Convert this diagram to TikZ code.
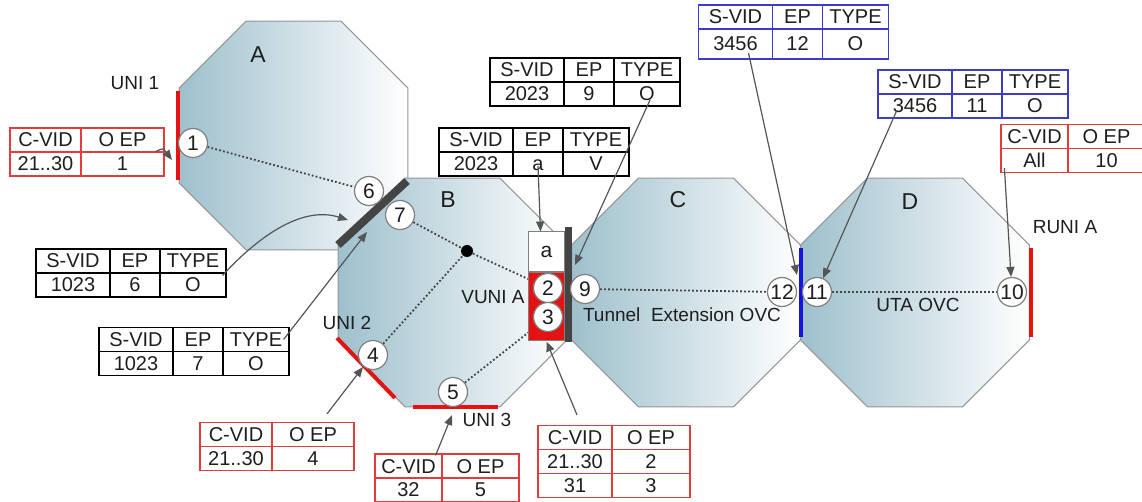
\documentclass[tikz,border=0pt]{standalone}
\usepackage{fontspec}
\setmainfont{Liberation Sans}
\usetikzlibrary{shapes.geometric,matrix,arrows.meta,positioning}
\pgfdeclarelayer{front}
\pgfsetlayers{main,front}

\definecolor{octblue}{RGB}{158,192,204}
\definecolor{octline}{RGB}{150,150,150}
\definecolor{bardark}{RGB}{68,68,68}
\definecolor{unired}{RGB}{228,18,18}
\definecolor{tabred}{RGB}{228,60,60}
\definecolor{nniblue}{RGB}{20,20,225}
\definecolor{tabblue}{RGB}{60,60,200}
\definecolor{ptrgray}{RGB}{85,85,85}
\definecolor{ink}{RGB}{30,30,30}

\tikzset{
  every node/.style={text=ink, font=\fontsize{9.5}{11}\selectfont},
  oct/.style={regular polygon, regular polygon sides=8, minimum size=123.9pt, inner sep=0pt,
    draw=octline, line width=0.5pt, left color=octblue, right color=white},
  octname/.style={font=\fontsize{11.5}{13}\selectfont},
  ep/.style={circle, draw=gray, fill=white, line width=0.6pt, minimum size=14.5pt, inner sep=0pt,
    font=\fontsize{10.5}{12}\selectfont},
  vbox/.style={rectangle, draw=gray, fill=white, line width=0.5pt, minimum width=18pt,
    minimum height=20pt, inner sep=0pt, font=\fontsize{10.5}{12}\selectfont},
  unibar/.style={draw=unired, line width=2pt},
  nnibar/.style={draw=bardark, line width=4pt},
  enni/.style={draw=nniblue, line width=2pt},
  path/.style={draw=bardark, line width=0.9pt, dash pattern=on 0.9pt off 1.1pt},
  ptr/.style={draw=ptrgray, line width=0.6pt, -{Triangle[length=5pt,width=4pt]}},
  tbl/.style={matrix of nodes, inner sep=0pt, column sep=-0.6pt, row sep=-0.6pt,
    nodes={draw=#1, line width=0.6pt, minimum height=12pt, text height=7pt, text depth=0pt,
      inner sep=0pt, font=\fontsize{10}{12}\selectfont}},
  svid/.style={tbl=#1, column 1/.style={nodes={minimum width=37pt}},
    column 2/.style={nodes={minimum width=25pt}}, column 3/.style={nodes={minimum width=33pt}}},
  cvid/.style 2 args={tbl=tabred, column 1/.style={nodes={minimum width=#1}},
    column 2/.style={nodes={minimum width=#2}}},
}

\begin{document}
\begin{tikzpicture}[x=0.5pt,y=-0.5pt]
  \useasboundingbox (0,0) rectangle (1142,502);

  % EVCs as octagons
  \node[oct] (octA) at (293.5,135.5) {};
  \node[oct] (octB) at (452.5,292.5) {};
  \node[oct] (octC) at (686,292.5) {};
  \node[oct] (octD) at (915,292.5) {};
  \node[octname] (nameA) at (258,55) {A};
  \node[octname] (nameB) at (448,200) {B};
  \node[octname] (nameC) at (678,200) {C};
  \node[octname] (nameD) at (910,202) {D};

  % interfaces
  \draw[unibar] (178,91) -- (178,180);
  \draw[nnibar] (338,245) -- (407,181);
  \draw[unibar] (337,338) -- (395,398);
  \draw[unibar] (413,407) -- (498,407);
  \draw[draw=bardark, line width=3.5pt] (568.5,227) -- (568.5,342);
  \draw[enni] (801,248) -- (801,337);
  \draw[unibar] (1031,248) -- (1031,337);

  % labels
  \node (uni1lbl) at (135,83) {UNI 1};
  \node (uni2lbl) at (347,323) {UNI 2};
  \node (uni3lbl) at (487,420) {UNI 3};
  \node (vunilbl) at (493,297) {VUNI A};
  \node (runilbl) at (1065,227) {RUNI A};
  \node (tunlbl) at (682,315) {Tunnel\ \ Extension OVC};
  \node (utalbl) at (918,305) {UTA OVC};

  \begin{pgfonlayer}{front}
    \node[vbox] (abox) at (546.5,252) {a};
    \node[vbox, fill=unired, minimum height=34pt, below=0pt of abox] (vuni) {};
    \node[ep] (e1) at (193,143) {1};
    \node[ep] (e6) at (369,191) {6};
    \node[ep] (e7) at (400,215) {7};
    \node[ep] (e4) at (373,355) {4};
    \node[ep] (e5) at (453,392) {5};
    \node[ep] (e2) at (548,288) {2};
    \node[ep] (e3) at (548,317) {3};
    \node[ep] (e9) at (585,289) {9};
    \node[ep] (e12) at (782,292) {12};
    \node[ep] (e11) at (817,292) {11};
    \node[ep] (e10) at (1012,292) {10};
    \node[circle, fill=black, minimum size=6pt, inner sep=0pt] (sw) at (467,251) {};
  \end{pgfonlayer}

  % paths through the EVCs
  \draw[path] (e1) -- (e6);
  \draw[path] (e7) -- (sw) -- (e2);
  \draw[path] (e4) -- (sw);
  \draw[path] (e5) -- (e3);
  \draw[path] (e9) -- (e12);
  \draw[path] (e11) -- (e10);

  % tables
  \matrix (t1) [cvid={35.5pt}{41.5pt}] at (87,152) {C-VID & O EP \\ 21..30 & 1 \\};
  \matrix (t4) [cvid={36pt}{41pt}] at (277,446.5) {C-VID & O EP \\ 21..30 & 4 \\};
  \matrix (t5) [cvid={33.5pt}{38.5pt}] at (447,478) {C-VID & O EP \\ 32 & 5 \\};
  \matrix (t23) [cvid={37pt}{39pt}] at (614,461.5) {C-VID & O EP \\ 21..30 & 2 \\ 31 & 3 \\};
  \matrix (t10) [cvid={33.5pt}{38.5pt}] at (1073,148.5) {C-VID & O EP \\ All & 10 \\};
  \matrix (t6) [svid=black] at (131,273) {S-VID & EP & TYPE \\ 1023 & 6 & O \\};
  \matrix (t7) [svid=black] at (194,351.5) {S-VID & EP & TYPE \\ 1023 & 7 & O \\};
  \matrix (ta) [svid=black] at (534,152) {S-VID & EP & TYPE \\ 2023 & a & V \\};
  \matrix (t9) [svid=black] at (585,82) {S-VID & EP & TYPE \\ 2023 & 9 & O \\};
  \matrix (t12) [svid=tabblue, row 2/.style={nodes={minimum height=15pt}}] at (793.5,32)
    {S-VID & EP & TYPE \\ 3456 & 12 & O \\};
  \matrix (t11) [svid=tabblue] at (973,94) {S-VID & EP & TYPE \\ 3456 & 11 & O \\};

  % pointers
  \coordinate (uni1) at (172,160);
  \coordinate (nni6) at (348,220);
  \coordinate (nni7) at (367,232);
  \coordinate (uni2) at (363,367);
  \coordinate (uni3) at (452,415);
  \coordinate (nni9) at (575,265);
  \coordinate (enni12) at (797,275);
  \draw[ptr] ([xshift=-4.5pt,yshift=0.5pt]t1-1-2.south east) .. controls (163,148) .. (uni1);
  \draw[ptr] ([xshift=-2pt,yshift=-1.5pt]t6-2-3.north east) .. controls (255,240) and (300,205) .. (nni6);
  \draw[ptr] ([xshift=-3pt]t7-1-3.east) -- (nni7);
  \draw[ptr] ([xshift=7pt,yshift=4pt]t4-1-2.north) -- (uni2);
  \draw[ptr] ([xshift=-3.5pt,yshift=-1pt]t5-1-1.north east) -- (uni3);
  \draw[ptr] ([xshift=1pt,yshift=5pt]t23-1-1.north) -- (vuni.south);
  \draw[ptr] ([yshift=-1pt]ta-2-2.center) -- ([xshift=-3pt]abox.north);
  \draw[ptr] ([xshift=1.5pt,yshift=-3pt]t9-2-3.center) -- (nni9);
  \draw[ptr] ([xshift=6.5pt,yshift=-4.5pt]t12-2-1.center) -- (enni12);
  \draw[ptr] ([xshift=-9pt,yshift=-2pt]t11-2-1.center) -- (e11);
  \draw[ptr] ([xshift=2pt,yshift=2.5pt]t10-2-1.south west) -- (e10);
\end{tikzpicture}
\end{document}
